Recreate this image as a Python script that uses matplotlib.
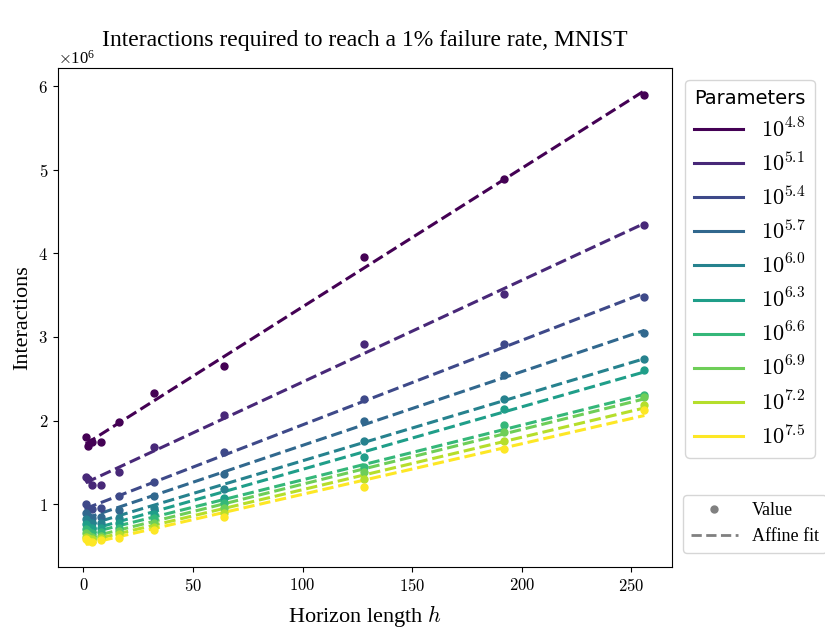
import numpy as np
import matplotlib
matplotlib.use("Agg")
import matplotlib.pyplot as plt
from matplotlib.lines import Line2D

plt.rcParams['mathtext.fontset'] = 'cm'
plt.rcParams['axes.formatter.use_mathtext'] = True
plt.rcParams['font.family'] = ['Liberation Serif', 'DejaVu Serif']

# horizon lengths
horizons = [1, 2, 4, 8, 16, 32, 64, 128, 192, 256]

# log10 of parameter counts
param_exps = ["4.8", "5.1", "5.4", "5.7", "6.0", "6.3", "6.6", "6.9", "7.2", "7.5"]

# interactions (x 1e6) for each parameter count
inter_48 = [1.80, 1.70, 1.74, 1.74, 1.98, 2.33, 2.65, 3.96, 4.89, 5.89]
inter_51 = [1.33, 1.30, 1.23, 1.23, 1.39, 1.68, 2.07, 2.92, 3.51, 4.34]
inter_54 = [1.00, 0.96, 0.94, 0.95, 1.10, 1.27, 1.62, 2.26, 2.91, 3.48]
inter_57 = [0.90, 0.86, 0.84, 0.85, 0.93, 1.10, 1.36, 1.99, 2.54, 3.05]
inter_60 = [0.82, 0.79, 0.77, 0.78, 0.83, 0.95, 1.18, 1.75, 2.26, 2.74]
inter_63 = [0.76, 0.73, 0.71, 0.72, 0.77, 0.88, 1.08, 1.56, 2.14, 2.61]
inter_66 = [0.70, 0.68, 0.66, 0.67, 0.72, 0.83, 1.02, 1.44, 1.95, 2.30]
inter_69 = [0.65, 0.63, 0.61, 0.62, 0.68, 0.78, 0.96, 1.38, 1.86, 2.28]
inter_72 = [0.61, 0.59, 0.58, 0.59, 0.64, 0.73, 0.90, 1.30, 1.75, 2.19]
inter_75 = [0.58, 0.56, 0.55, 0.57, 0.60, 0.69, 0.85, 1.20, 1.66, 2.13]

series = [inter_48, inter_51, inter_54, inter_57, inter_60,
          inter_63, inter_66, inter_69, inter_72, inter_75]

colors = plt.cm.viridis(np.linspace(0, 1, len(series)))

fig = plt.figure(figsize=(8.25, 6.3), dpi=100)
ax = fig.add_axes([0.070, 0.100, 0.745, 0.792])

h = np.array(horizons, dtype=float)
handles = []
for vals, exp, c in zip(series, param_exps, colors):
    y = np.array(vals) * 1e6
    ax.scatter(h, y, color=c, s=25, zorder=3)
    # affine fit
    slope, icpt = np.polyfit(h, y, 1)
    xs = np.array([h.min(), h.max()])
    ax.plot(xs, slope * xs + icpt, color=c, linestyle='--', linewidth=2.2)
    handles.append(Line2D([], [], color=c, linewidth=2.2, label=r'$10^{%s}$' % exp))

ax.set_title('Interactions required to reach a 1% failure rate, MNIST', fontsize=17, pad=16)
ax.set_xlabel('Horizon length $h$', fontsize=16, labelpad=7)
ax.set_ylabel('Interactions', fontsize=16)
ax.tick_params(labelsize=12, labelfontfamily='cmr10')
ax.set_xticks([0, 50, 100, 150, 200, 250])
ax.yaxis.get_offset_text().set_fontsize(12)

leg1 = ax.legend(handles=handles, loc='upper left', bbox_to_anchor=(1.021, 0.976),
                 borderaxespad=0, fontsize=16, title='Parameters', handlelength=2.2,
                 handletextpad=0.8, labelspacing=0.46)
leg1.get_title().set_fontfamily('DejaVu Sans')
leg1.get_title().set_fontsize(14)
ax.add_artist(leg1)

style_handles = [
    Line2D([], [], color='grey', marker='o', linestyle='None', markersize=5, label='Value'),
    Line2D([], [], color='grey', linestyle='--', linewidth=2, label='Affine fit'),
]
ax.legend(handles=style_handles, loc='upper left', bbox_to_anchor=(1.018, 0.144),
          borderaxespad=0, fontsize=13, handlelength=2.6)

fig.savefig('out.png', dpi=100)
